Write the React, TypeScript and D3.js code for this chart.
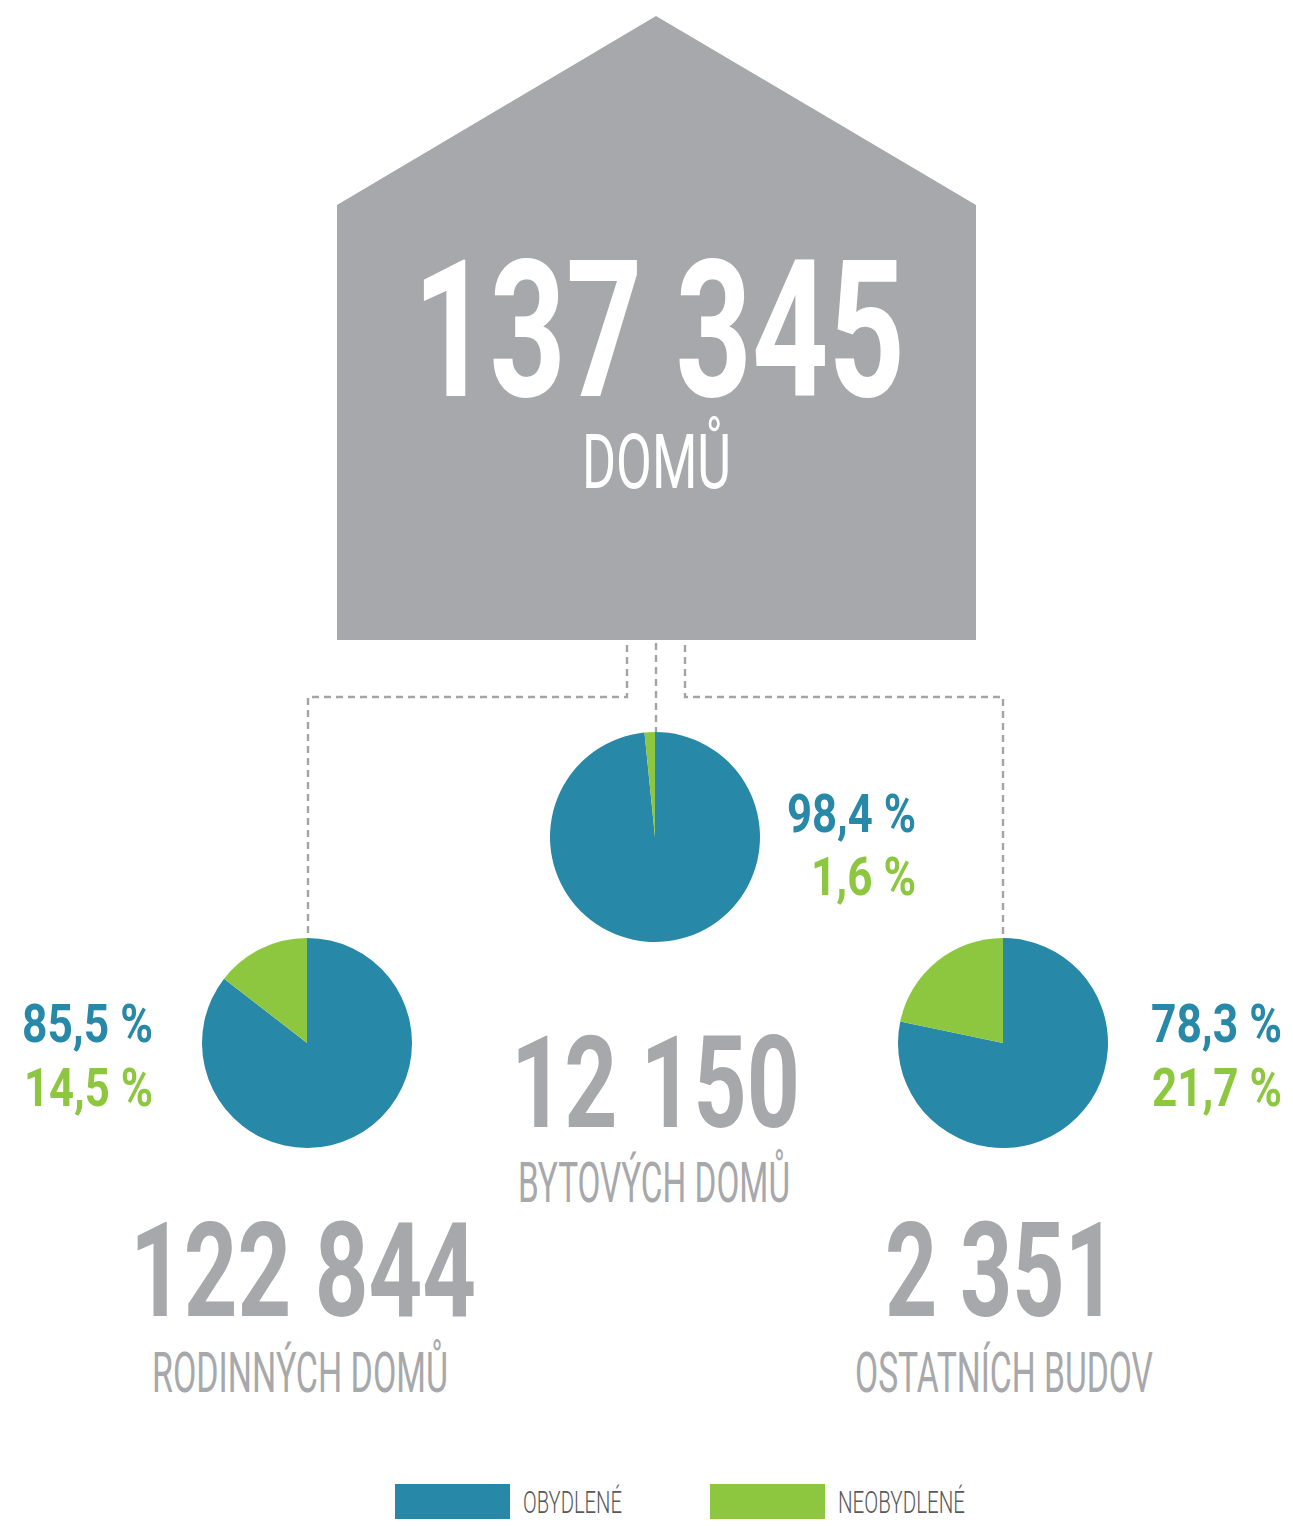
import React from "react";
import * as d3 from "d3";

// ---- data ----
const totalCount = 137345;
const totalLabel = "DOMŮ";
const categories = ["RODINNÝCH DOMŮ", "BYTOVÝCH DOMŮ", "OSTATNÍCH BUDOV"];
const counts = [122844, 12150, 2351];
const occupied = [85.5, 98.4, 78.3];
const unoccupied = [14.5, 1.6, 21.7];
const legendLabels = ["OBYDLENÉ", "NEOBYDLENÉ"];

// ---- style ----
const BLUE = "#2788a8";
const GREEN = "#8dc63f";
const GREY = "#a7a8ab";
const DARK = "#58595b";
const FONT = "Roboto, 'DejaVu Sans', sans-serif";

const locale = d3.formatLocale({ decimal: ",", thousands: " ", grouping: [3], currency: ["", ""] });
const fmtInt = locale.format(",d");
const fmtPct = (v: number) => locale.format(".1f")(v) + " %";

// layout per category: pie centre, percent label box, count text box, label box
const layout = [
  { cx: 307, cy: 1043, pctX: 22, pctW: [131, 129], pctY: [1042, 1106], numX: 130, numW: 346, numY: 1316, labX: 152, labW: 296, labY: 1392 },
  { cx: 655, cy: 837, pctX: 787, pctW: [129, 105], pctY: [832, 895], numX: 511, numW: 289, numY: 1127, labX: 518, labW: 272, labY: 1202 },
  { cx: 1003, cy: 1043, pctX: 1151, pctW: [131, 130], pctY: [1042, 1106], numX: 885, numW: 232, numY: 1316, labX: 855, labW: 298, labY: 1392 },
];
const R = 105;

export default function App() {
  const pie = d3.pie<number>().sort(null).value((d) => d);
  const arc = d3.arc<d3.PieArcDatum<number>>().innerRadius(0).outerRadius(R);
  const colors = [BLUE, GREEN];

  const house = d3.line()([
    [656, 16], [976, 205], [976, 640], [337, 640], [337, 205],
  ]) + "Z";

  const dash = { stroke: "#a3a4a7", strokeWidth: 2.4, strokeDasharray: "7 5", fill: "none" };

  return (
    <svg width={1293} height={1526} style={{ position: "absolute", left: 0, top: 0, background: "#fff" }}>
      <path d={house} fill={GREY} />
      <text x={413} y={396} fill="#fff" fontFamily={FONT} fontWeight={700} fontSize={192}
        textLength={492} lengthAdjust="spacingAndGlyphs">{fmtInt(totalCount)}</text>
      <text x={582} y={488} fill="#fff" fontFamily={FONT} fontWeight={400} fontSize={76}
        textLength={149} lengthAdjust="spacingAndGlyphs">{totalLabel}</text>

      {/* connectors */}
      <path d={`M656,643 V732`} {...dash} />
      <path d={`M627,645 V697 H308 V938`} {...dash} />
      <path d={`M685,645 V697 H1003 V938`} {...dash} />

      {categories.map((cat, i) => {
        const L = layout[i];
        const arcs = pie([occupied[i], unoccupied[i]]);
        const pcts = [occupied[i], unoccupied[i]];
        return (
          <g key={cat}>
            <g transform={`translate(${L.cx},${L.cy})`}>
              {arcs.map((a, j) => (
                <path key={j} d={arc(a) || ""} fill={colors[j]} />
              ))}
            </g>
            {pcts.map((p, j) => {
              const right = L.pctX + L.pctW[0];
              return (
                <text key={j} x={right - L.pctW[j]} y={L.pctY[j]} fill={colors[j]} fontFamily={FONT}
                  fontWeight={700} fontSize={54} textLength={L.pctW[j]} lengthAdjust="spacingAndGlyphs">
                  {fmtPct(p)}
                </text>
              );
            })}
            <text x={L.numX} y={L.numY} fill={GREY} fontFamily={FONT} fontWeight={700}
              fontSize={i === 1 ? 128 : 131} textLength={L.numW} lengthAdjust="spacingAndGlyphs">
              {fmtInt(counts[i])}
            </text>
            <text x={L.labX} y={L.labY} fill={GREY} fontFamily={FONT} fontWeight={400}
              fontSize={55} textLength={L.labW} lengthAdjust="spacingAndGlyphs">
              {cat}
            </text>
          </g>
        );
      })}

      {/* legend */}
      {legendLabels.map((lab, j) => {
        const x0 = j === 0 ? 395 : 710;
        return (
          <g key={lab}>
            <rect x={x0} y={1484} width={115} height={35} fill={colors[j]} />
            <text x={x0 + 128} y={1513} fill={DARK} fontFamily={FONT} fontWeight={300} fontSize={32}
              textLength={j === 0 ? 99 : 127} lengthAdjust="spacingAndGlyphs">{lab}</text>
          </g>
        );
      })}
    </svg>
  );
}
